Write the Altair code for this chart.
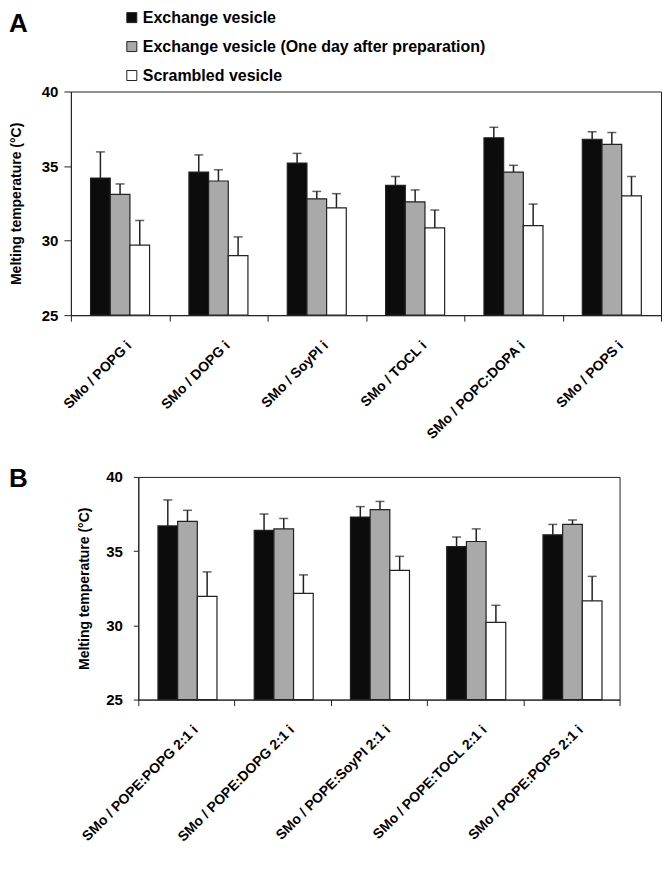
import altair as alt
import pandas as pd

FONT = "Liberation Sans"

series = ["Exchange vesicle",
          "Exchange vesicle (One day after preparation)",
          "Scrambled vesicle"]
series_colors = ["#0c0c0c", "#a9a9a9", "#ffffff"]

# ---- Panel A ----
groups_a = ["SMo / POPG i", "SMo / DOPG i", "SMo / SoyPI i",
            "SMo / TOCL i", "SMo / POPC:DOPA i", "SMo / POPS i"]
exch_a = [34.2, 34.6, 35.2, 33.7, 36.9, 36.8]
exch_a_err = [1.75, 1.15, 0.65, 0.6, 0.7, 0.5]
day_a = [33.1, 34.0, 32.8, 32.6, 34.6, 36.45]
day_a_err = [0.7, 0.75, 0.5, 0.8, 0.45, 0.8]
scr_a = [29.7, 29.0, 32.2, 30.85, 31.0, 33.0]
scr_a_err = [1.65, 1.25, 0.95, 1.2, 1.45, 1.3]

# ---- Panel B ----
groups_b = ["SMo / POPE:POPG 2:1 i", "SMo / POPE:DOPG 2:1 i",
            "SMo / POPE:SoyPI 2:1 i", "SMo / POPE:TOCL 2:1 i",
            "SMo / POPE:POPS 2:1 i"]
exch_b = [36.7, 36.4, 37.3, 35.3, 36.1]
exch_b_err = [1.75, 1.1, 0.7, 0.65, 0.7]
day_b = [37.0, 36.5, 37.8, 35.65, 36.8]
day_b_err = [0.75, 0.7, 0.55, 0.85, 0.3]
scr_b = [31.95, 32.15, 33.7, 30.2, 31.65]
scr_b_err = [1.65, 1.25, 0.95, 1.15, 1.65]

y_ticks = [25, 30, 35, 40]
y_title = "Melting temperature (°C)"


def long_df(groups, vals, errs):
    rows = []
    for s, vl, el in zip(series, vals, errs):
        for g, v, e in zip(groups, vl, el):
            rows.append({"group": g, "series": s, "value": v, "upper": v + e})
    return pd.DataFrame(rows)


df_a = long_df(groups_a, [exch_a, day_a, scr_a], [exch_a_err, day_a_err, scr_a_err])
df_b = long_df(groups_b, [exch_b, day_b, scr_b], [exch_b_err, day_b_err, scr_b_err])


def panel(df, groups, letter, width, height, ytick, ylabpad, ytitlepad,
          letter_x, letter_y, legend):
    x = alt.X("group:N", sort=groups, title=None,
              scale=alt.Scale(paddingInner=0, paddingOuter=0),
              axis=alt.Axis(labelAngle=-45, labelAlign="right", labelBaseline="top",
                            labelPadding=17, labelOffset=4, tickBand="extent",
                            tickSize=6, labelFont=FONT, labelFontSize=14,
                            labelFontWeight="bold", labelColor="#000",
                            domainColor="#222", tickColor="#222", labelLimit=0))
    xo = alt.XOffset("series:N", sort=series,
                     scale=alt.Scale(paddingOuter=1, paddingInner=0))
    yscale = alt.Scale(domain=[25, 40], nice=False, zero=False)
    yaxis = alt.Axis(values=y_ticks, tickSize=ytick, labelPadding=ylabpad,
                     titlePadding=ytitlepad, labelFont=FONT, labelFontSize=15,
                     labelFontWeight="bold", labelColor="#000",
                     titleFont=FONT, titleFontSize=14, titleFontWeight="bold",
                     titleColor="#000", domainColor="#222", tickColor="#222",
                     grid=False)
    color = alt.Color("series:N", sort=series,
                      scale=alt.Scale(domain=series, range=series_colors),
                      legend=legend)
    base = alt.Chart(df)
    bars = base.mark_bar(stroke="#222", strokeWidth=1.2).encode(
        x=x, xOffset=xo,
        y=alt.Y("value:Q", scale=yscale, axis=yaxis, title=y_title),
        y2=alt.datum(25),
        color=color,
    )
    rules = base.mark_rule(color="#222", strokeWidth=1.5).encode(
        x=x, xOffset=xo, y=alt.Y("value:Q", scale=yscale), y2="upper:Q")
    caps = base.mark_tick(color="#222", size=9, thickness=1.5,
                          orient="horizontal").encode(
        x=x, xOffset=xo, y=alt.Y("upper:Q", scale=yscale))
    lab = alt.Chart(pd.DataFrame({"t": [letter]})).mark_text(
        align="left", baseline="top", fontSize=26, fontWeight="bold",
        font=FONT, color="#000").encode(
        x=alt.value(letter_x), y=alt.value(letter_y), text="t:N")
    return alt.layer(bars, rules, caps, lab).properties(width=width, height=height)


legend_a = alt.Legend(title=None, orient="none", legendX=53, legendY=-82,
                      direction="vertical", symbolType="square", symbolSize=100,
                      symbolStrokeColor="#222", symbolStrokeWidth=1,
                      labelFont=FONT, labelFontSize=16, labelFontWeight="bold",
                      labelColor="#000", rowPadding=13, labelOffset=3,
                      labelLimit=0)

chart_a = panel(df_a, groups_a, "A", 591, 224, 7, 6, 18, -62, -81, legend_a)
chart_b = panel(df_b, groups_b, "B", 482, 223, 5, 11, 14, -129.5, -11, None)

spacer = alt.Chart(pd.DataFrame({"t": [""]})).mark_text().encode(
    text="t:N", x=alt.value(0), y=alt.value(0)).properties(
    width=1, height=223, view=alt.ViewBackground(stroke="transparent"))

row_b = alt.hconcat(spacer, chart_b, spacing=66.5).properties(bounds="flush")

chart = alt.vconcat(chart_a, row_b, spacing=22).resolve_scale(
    color="independent").properties(padding=0).configure_view(
    stroke="#222", strokeWidth=1)

chart.save("out.html", embed_options={"renderer": "svg", "actions": False})
